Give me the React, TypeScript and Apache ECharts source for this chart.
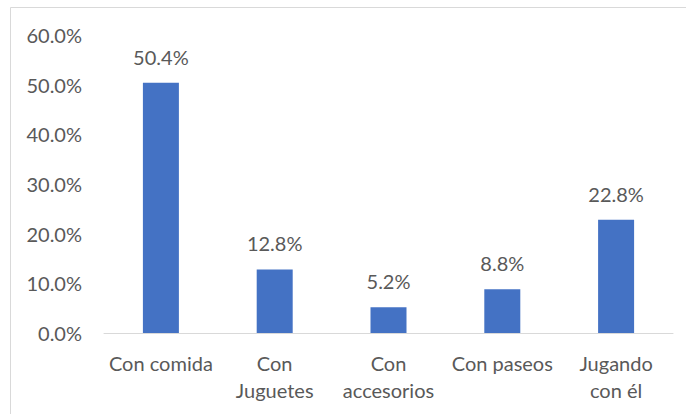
import React, { useEffect, useRef } from "react";
import * as echarts from "echarts";

const categories = ["Con comida", "Con\nJuguetes", "Con\naccesorios", "Con paseos", "Jugando\ncon él"];
const values = [50.4, 12.8, 5.2, 8.8, 22.8];
const yTicks = { min: 0, max: 60, interval: 10 };

const FONT = "Lato";
const TEXT = "#595959";

export default function App() {
  const ref = useRef<HTMLDivElement>(null);
  useEffect(() => {
    const chart = echarts.init(ref.current!, null, { renderer: "svg" });
    chart.setOption({
      animation: false,
      textStyle: { fontFamily: FONT },
      graphic: [
        { type: "line", shape: { x1: 10.5, y1: 7.5, x2: 686, y2: 7.5 }, style: { stroke: "#d9d9d9", lineWidth: 1 } },
        { type: "line", shape: { x1: 10.5, y1: 7.5, x2: 10.5, y2: 414 }, style: { stroke: "#d9d9d9", lineWidth: 1 } },
      ],
      grid: { left: 104, right: 13, top: 35, bottom: 81, containLabel: false },
      xAxis: {
        type: "category",
        data: categories,
        axisLine: { show: true, lineStyle: { color: "#d9d9d9", width: 1 } },
        axisTick: { show: false },
        axisLabel: { color: TEXT, fontSize: 20, fontFamily: FONT, lineHeight: 27, margin: 16, interval: 0 },
      },
      yAxis: {
        type: "value",
        min: yTicks.min,
        max: yTicks.max,
        interval: yTicks.interval,
        splitLine: { show: false },
        axisLine: { show: false },
        axisTick: { show: false },
        axisLabel: {
          color: TEXT,
          fontSize: 20,
          fontFamily: FONT,
          margin: 22,
          formatter: (v: number) => v.toFixed(1) + "%",
        },
      },
      series: [
        {
          type: "bar",
          data: values,
          barWidth: 36,
          itemStyle: { color: "#4472C4" },
          label: {
            show: true,
            position: "top",
            distance: 16,
            color: TEXT,
            fontSize: 20,
            fontFamily: FONT,
            formatter: (p: any) => p.value.toFixed(1) + "%",
          },
        },
      ],
    });
    return () => chart.dispose();
  }, []);
  return <div ref={ref} style={{ width: 686, height: 414, position: "absolute", left: 0, top: 0 }} />;
}
